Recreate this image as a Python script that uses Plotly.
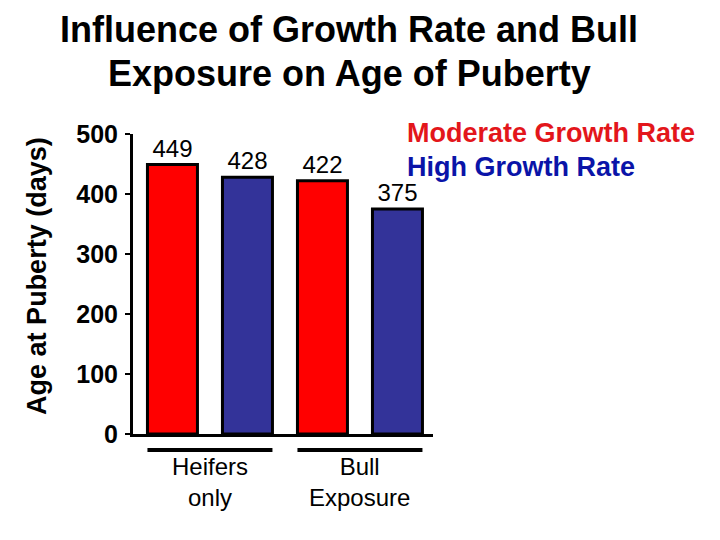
import plotly.graph_objects as go

groups = ["Heifers only", "Bull Exposure"]
group_labels = ["Heifers<br>only", "Bull<br>Exposure"]
series_names = ["Moderate Growth Rate", "High Growth Rate"]
moderate = [449, 422]
high = [428, 375]
y_ticks = [0, 100, 200, 300, 400, 500]
title_lines = ["Influence of Growth Rate and Bull", "Exposure on Age of Puberty"]

colors = ["#FF0000", "#333399"]
text_colors = ["#E3161B", "#0A14A8"]
FONT = "Liberation Sans, Arial, sans-serif"

fig = go.Figure()
for name, vals, col in zip(series_names, [moderate, high], colors):
    fig.add_trace(go.Bar(
        x=list(range(len(groups))), y=vals, name=name,
        marker=dict(color=col, line=dict(color="black", width=3)),
        text=[str(v) for v in vals], textposition="outside",
        textfont=dict(family=FONT, size=24, color="black"),
        cliponaxis=False, showlegend=False,
    ))

# bar geometry (bargap=0, bargroupgap=1/3)
slot = 0.5
bar_w = slot * (1 - 1/3)
for i, lab in enumerate(group_labels):
    left = i - slot / 2 - bar_w / 2
    right = i + slot / 2 + bar_w / 2
    fig.add_shape(type="line", xref="x", yref="paper", x0=left, x1=right,
                  y0=-0.053, y1=-0.053, line=dict(color="black", width=4))
    fig.add_annotation(x=i, xref="x", y=-0.055, yref="paper", text=lab,
                       showarrow=False, yanchor="top", xanchor="center",
                       font=dict(family=FONT, size=24, color="black"))

# text legend
for k, (name, col) in enumerate(zip(series_names, text_colors)):
    fig.add_annotation(x=0.905, xref="paper", y=1.005 - k * 0.114, yref="paper",
                       text="<b>%s</b>" % name, showarrow=False,
                       xanchor="left", yanchor="middle",
                       font=dict(family=FONT, size=27, color=col))

# y axis title
fig.add_annotation(x=-0.32, xref="paper", y=0.527, yref="paper",
                   text="<b>Age at Puberty (days)</b>", textangle=-90,
                   showarrow=False, xanchor="center", yanchor="middle",
                   font=dict(family=FONT, size=27, color="black"))

# title (two lines)
for k, line in enumerate(title_lines):
    fig.add_annotation(x=0.72, xref="paper", y=1.347 - k * 0.144, yref="paper",
                       text="<b>%s</b>" % line, showarrow=False,
                       xanchor="center", yanchor="middle",
                       font=dict(family=FONT, size=36, color="black"))

fig.update_layout(
    width=712, height=532,
    margin=dict(l=125, r=287, t=126, b=106, pad=0),
    paper_bgcolor="white", plot_bgcolor="white",
    barmode="group", bargap=0, bargroupgap=1/3,
    xaxis=dict(range=[-0.513, 1.487], showticklabels=False, ticks="",
               showline=True, linecolor="black", linewidth=3,
               showgrid=False, zeroline=False, fixedrange=True),
    yaxis=dict(range=[0, 500], tickvals=y_ticks, ticks="outside", ticklen=5,
               tickwidth=2, tickcolor="black", showline=True, linecolor="black",
               linewidth=3, showgrid=False, zeroline=False,
               ticklabelstandoff=2,
               tickfont=dict(family=FONT, size=25, color="black", weight="bold")),
    font=dict(family=FONT),
)

fig.write_html("out.html")
